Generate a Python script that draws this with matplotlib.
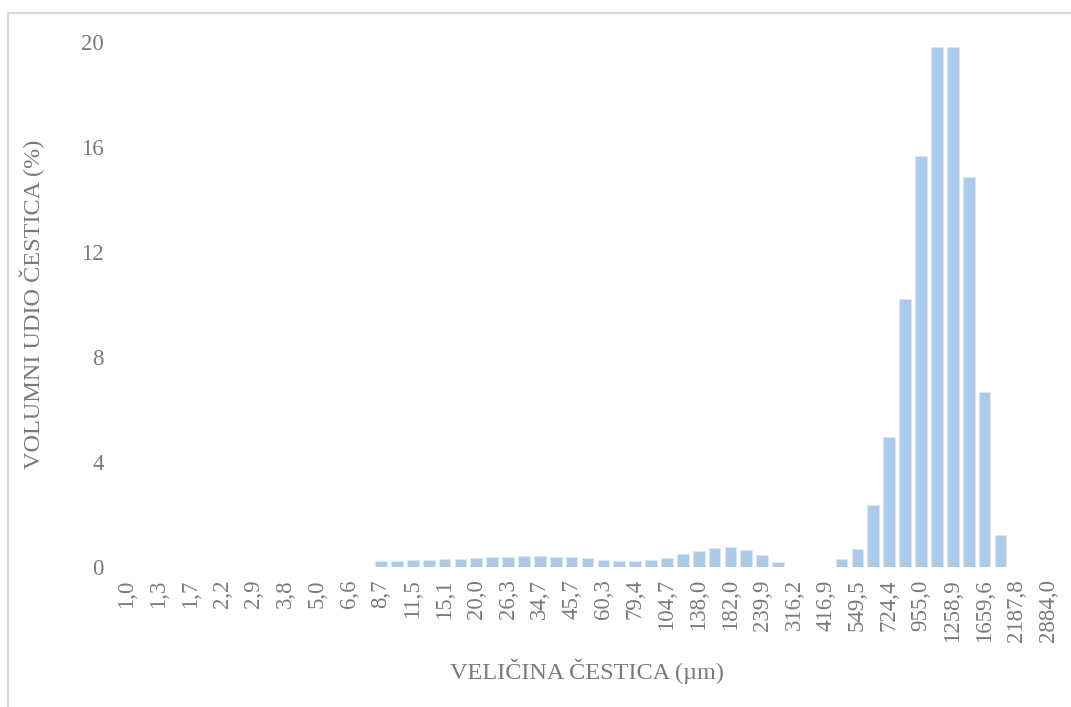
#!/usr/bin/env python3
"""Particle size distribution bar chart (volume %)."""
import matplotlib
matplotlib.use("Agg")
import matplotlib.pyplot as plt
from matplotlib.lines import Line2D

W, H, DPI = 1071, 707, 100
TEXT_COLOR = "#7a7a7a"
BAR_COLOR = "#abcbe9"

# size classes (um); only every other one is labelled on the axis
sizes = [
    "1,0", "1,1", "1,3", "1,5", "1,7", "2,0", "2,2", "2,5", "2,9", "3,3",
    "3,8", "4,4", "5,0", "5,8", "6,6", "7,6", "8,7", "10,0", "11,5", "13,2",
    "15,1", "17,4", "20,0", "22,9", "26,3", "30,2", "34,7", "39,8", "45,7", "52,5",
    "60,3", "69,2", "79,4", "91,2", "104,7", "120,2", "138,0", "158,5", "182,0", "208,9",
    "239,9", "275,4", "316,2", "363,1", "416,9", "478,6", "549,5", "631,0", "724,4", "831,8",
    "955,0", "1096,5", "1258,9", "1445,4", "1659,6", "1905,5", "2187,8", "2511,9", "2884,0",
]

volume = [
    0, 0, 0, 0, 0, 0, 0, 0, 0, 0,
    0, 0, 0, 0, 0, 0, 0.23, 0.23, 0.26, 0.27,
    0.29, 0.31, 0.34, 0.36, 0.38, 0.41, 0.41, 0.38, 0.37, 0.33,
    0.27, 0.23, 0.23, 0.27, 0.34, 0.47, 0.60, 0.72, 0.74, 0.65,
    0.45, 0.18, 0, 0, 0, 0.28, 0.68, 2.35, 4.95, 10.2,
    15.65, 19.8, 19.8, 14.85, 6.65, 1.2, 0, 0, 0,
]

y_ticks = [0, 4, 8, 12, 16, 20]

plt.rcParams["font.family"] = ["Liberation Serif", "DejaVu Serif"]

fig = plt.figure(figsize=(W / DPI, H / DPI), dpi=DPI)
ax = fig.add_axes([119 / W, (H - 566.7) / H, (1056 - 119) / W, (566.7 - 42) / H])

x = list(range(len(sizes)))
ax.bar(x, volume, width=0.74, color=BAR_COLOR, edgecolor="#dbe8f5", linewidth=0.6)

ax.set_xlim(-0.5, len(sizes) - 0.5)
ax.set_ylim(0, 20)
ax.set_yticks(y_ticks)
ax.set_yticklabels([str(t) for t in y_ticks])
ax.set_xticks(x[::2])
ax.set_xticklabels(sizes[::2], rotation=90, va="top", ha="center")

for s in ax.spines.values():
    s.set_visible(False)
ax.tick_params(axis="both", length=0, labelsize=16.5, colors=TEXT_COLOR)
ax.tick_params(axis="y", pad=11)
ax.tick_params(axis="x", pad=9)

ax.set_xlabel("VELIČINA ČESTICA (µm)", fontsize=17.5, color=TEXT_COLOR, labelpad=12)
ax.set_ylabel("VOLUMNI UDIO ČESTICA (%)", fontsize=17.5, color=TEXT_COLOR, labelpad=26)

# chart area frame (only left and top edges fall inside the picture)
fx = 8 / W
fy = 1 - 13 / H
fig.add_artist(Line2D([fx, fx, 1.0], [0.0, fy, fy], transform=fig.transFigure,
                      color="#d9d9d9", linewidth=1.5))

fig.savefig("out.png", dpi=DPI)
